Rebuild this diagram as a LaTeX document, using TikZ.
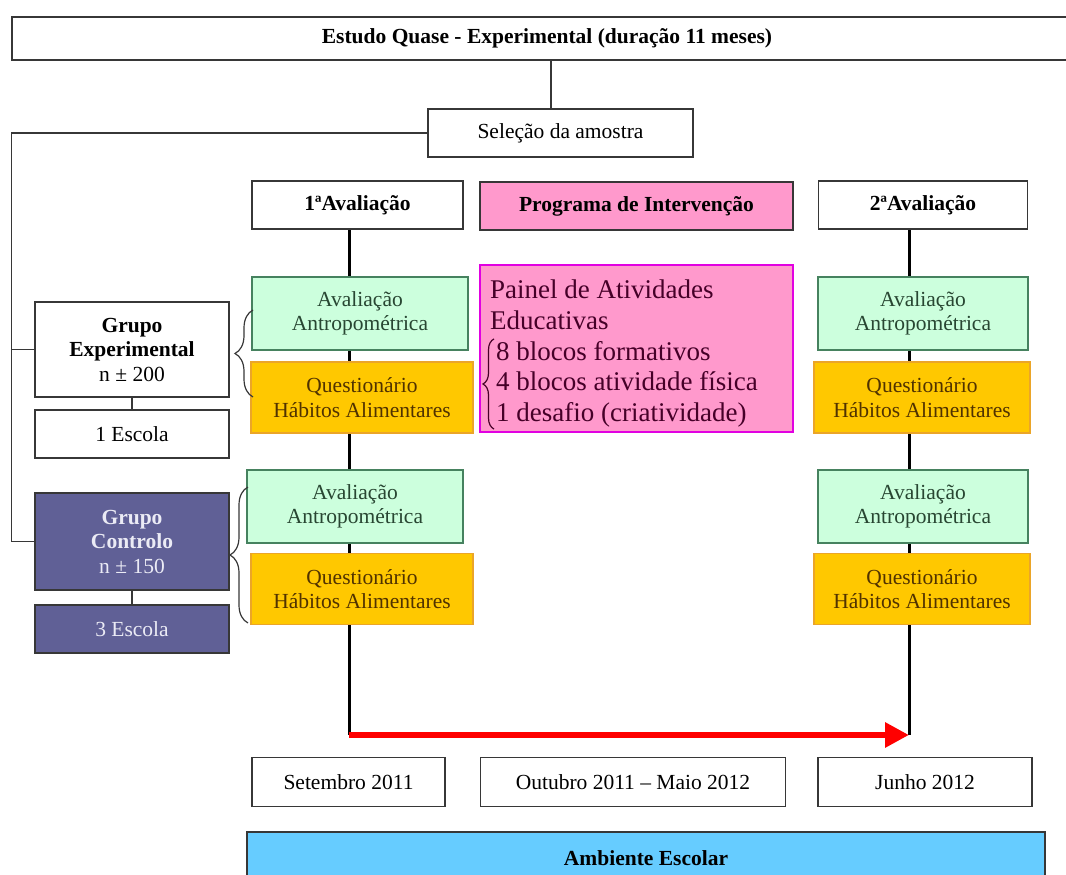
\documentclass[tikz,border=0pt]{standalone}
\usepackage{fontspec}
\setmainfont{Liberation Serif}
\usetikzlibrary{arrows.meta, positioning, decorations.pathreplacing, backgrounds}

\definecolor{boxgray}{RGB}{55,55,55}
\definecolor{mint}{RGB}{204,255,221}
\definecolor{mintline}{RGB}{70,130,95}
\definecolor{minttext}{RGB}{40,70,50}
\definecolor{amber}{RGB}{255,200,0}
\definecolor{amberline}{RGB}{235,165,40}
\definecolor{ambertext}{RGB}{80,50,0}
\definecolor{rose}{RGB}{255,153,204}
\definecolor{roseline}{RGB}{225,0,225}
\definecolor{rosetext}{RGB}{70,0,40}
\definecolor{slate}{RGB}{96,96,150}
\definecolor{slatetext}{RGB}{235,235,245}
\definecolor{sky}{RGB}{102,204,255}

\begin{document}
\begin{tikzpicture}[
x=1pt, y=-1pt,
font=\fontsize{21.5}{24.5}\selectfont,
box/.style={rectangle, draw=boxgray, line width=1.4pt, fill=white, align=center, inner sep=2pt},
headbox/.style={box, minimum width=211pt, minimum height=48pt},
datebox/.style={box, minimum height=49pt},
groupbox/.style={box, minimum width=194pt},
greenbox/.style={box, draw=mintline, fill=mint, text=minttext, minimum height=73pt},
orangebox/.style={box, draw=amberline, fill=amber, text=ambertext, minimum width=222pt, minimum height=71pt},
darkbox/.style={groupbox, fill=slate, text=slatetext},
paneltext/.style={align=left, inner sep=2pt, text=rosetext, font=\fontsize{27}{30.5}\selectfont},
link/.style={draw=boxgray, line width=1.4pt},
timeline/.style={line width=3pt},
redarrow/.style={-{Triangle[length=24pt, width=24pt]}, red, line width=6.5pt},
curly/.style={decorate, decoration={brace, amplitude=#1}, line width=1.2pt, draw=boxgray}
]

\useasboundingbox (0,0) rectangle (1066,875);

\node[box, minimum width=1070pt, minimum height=43pt] (title) at (547,38.5) {\textbf{Estudo Quase - Experimental (duração 11 meses)}};
\node[box, minimum width=265pt, minimum height=48pt] (sel) at (560.5,133) {Seleção da amostra};

\node[headbox] (av1) at (357.5,205) {\textbf{1ªAvaliação}};
\node[headbox, fill=rose, minimum width=313pt] (prog) at (636.5,206) {\textbf{Programa de Intervenção}};
\node[headbox, minimum width=209pt] (av2) at (923,205) {\textbf{2ªAvaliação}};

\node[groupbox, minimum height=95pt] (exp) at (132,349.5) {\textbf{Grupo}\\\textbf{Experimental}\\n ± 200};
\node[groupbox, minimum height=48pt] (esc1) at (132,434) {1 Escola};
\node[darkbox, minimum height=97pt] (ctrl) at (132,541.5) {\textbf{Grupo}\\\textbf{Controlo}\\n ± 150};
\node[darkbox, minimum height=48pt] (esc3) at (132,629) {3 Escola};

\node[greenbox, minimum width=216pt] (ga1) at (360,313.5) {Avaliação\\Antropométrica};
\node[orangebox] (qa1) at (362,397.5) {Questionário\\Hábitos Alimentares};
\node[greenbox, minimum width=216pt] (ga2) at (355,506.5) {Avaliação\\Antropométrica};
\node[orangebox] (qa2) at (362,589) {Questionário\\Hábitos Alimentares};

\node[greenbox, minimum width=210pt] (gb1) at (923,313.5) {Avaliação\\Antropométrica};
\node[orangebox, minimum width=216pt] (qb1) at (922,397.5) {Questionário\\Hábitos Alimentares};
\node[greenbox, minimum width=210pt] (gb2) at (923,506.5) {Avaliação\\Antropométrica};
\node[orangebox, minimum width=216pt] (qb2) at (922,589) {Questionário\\Hábitos Alimentares};

\node[box, draw=roseline, fill=rose, minimum width=313pt, minimum height=167pt] (panel) at (636.5,348.5) {};
\node[paneltext, anchor=north west] (ptitle) at (488,278) {Painel de Atividades\\Educativas};
\node[paneltext, anchor=north west] (plist) at ([shift={(6,7)}]ptitle.south west) {8 blocos formativos\\4 blocos atividade física\\1 desafio (criatividade)};

\node[datebox, minimum width=193pt] (set) at (348.5,782) {Setembro 2011};
\node[datebox, minimum width=305pt] (out) at (633,782) {Outubro 2011 – Maio 2012};
\node[datebox, minimum width=214pt] (jun) at (925,782) {Junho 2012};
\node[box, fill=sky, minimum width=798pt, minimum height=52pt] (amb) at (646,858) {\textbf{Ambiente Escolar}};

\coordinate (t1) at (349,735);
\coordinate (t2) at (909,735);

\begin{pgfonlayer}{background}
\draw[timeline] (t1 |- av1.south) -- (t1);
\draw[timeline] (t2 |- av2.south) -- (t2);
\end{pgfonlayer}
\draw[redarrow] (t1) -- (t2);

\draw[link] (title.south -| 551,0) -- (551,0 |- sel.north);
\draw[link] (sel.west) -- ++(-416,0) |- (ctrl.west);
\draw[link] (exp.west) -- ++(-23,0);
\draw[link] (exp) -- (esc1);
\draw[link] (ctrl) -- (esc3);

\draw[curly=18pt] (253,397) -- (253,310);
\draw[curly=18pt] (248,623) -- (248,487);
\draw[curly=11pt, draw=rosetext] (plist.south west) -- (plist.north west);

\end{tikzpicture}
\end{document}
